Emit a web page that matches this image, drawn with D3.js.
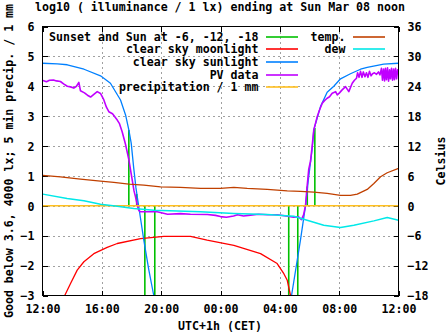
<!DOCTYPE html>
<html><head><meta charset="utf-8">
<script src="https://cdn.jsdelivr.net/npm/d3@7"></script>
<style>
body{margin:0;background:#fff}
svg{display:block}
text{font-family:"DejaVu Sans Mono",monospace;font-weight:bold;font-size:11.6px;fill:#000}
</style>
</head><body>
<svg id="c" width="447" height="335"></svg>
<script>
// ---- data (time = hours after Sat 12:00 CET) ----
const xTickHours = [0, 4, 8, 12, 16, 20, 24];
const xTickLabels = ["12:00", "16:00", "20:00", "00:00", "04:00", "08:00", "12:00"];
const yTicks = [-3, -2, -1, 0, 1, 2, 3, 4, 5, 6];
const y2Ticks = [-18, -12, -6, 0, 6, 12, 18, 24, 30, 36];

// Sunset and Sun at -6, -12, -18 (impulses from 0)
const twilightT = [5.82, 6.35, 6.9, 7.57, 16.6, 17.21, 17.85, 18.36];
const twilightV = [2.54, 0.4, -3.5, -3.5, -3.5, -3.5, 0.65, 2.6];

// clear sky moonlight
const moonT = [1.35, 1.5, 1.89, 2.34, 2.79, 3.46, 4.36, 5.04, 6.61, 8.18, 9.98, 11.1, 12.9, 14.7, 15.82, 16.27, 16.5, 16.72, 16.78];
const moonV = [-3.3, -3.0, -2.6, -2.15, -1.87, -1.6, -1.39, -1.26, -1.1, -1.02, -1.02, -1.15, -1.32, -1.6, -1.93, -2.27, -2.49, -3.0, -3.3];

// clear sky sunlight
const sunT = [0, 1.0, 1.67, 2.8, 3.91, 4.58, 5.26, 5.6, 5.82, 5.98, 6.15, 6.3, 6.49, 6.83, 7.17, 7.5, 7.6,
              16.7, 16.79, 17.39, 17.73, 17.93, 18.18, 18.29, 18.74, 19.19, 19.64, 20.09, 20.76, 21.44, 21.89, 23.0, 24];
const sunV = [4.77, 4.75, 4.72, 4.57, 4.35, 4.10, 3.54, 3.04, 2.54, 2.1, 1.26, 0.6, -0.03, -1.15, -2.15, -3.0, -3.3,
              -3.3, -3.0, -1.15, 0.0, 0.9, 1.9, 2.54, 3.32, 3.8, 4.0, 4.25, 4.42, 4.57, 4.63, 4.74, 4.77];

// PV data
const pvT = [0.03, 0.27, 0.47, 0.74, 0.94, 1.21, 1.42, 1.67, 1.89, 2.11, 2.29, 2.45, 2.56, 2.83, 3.03, 3.24, 3.44, 3.69, 3.91,
  4.13, 4.31, 4.47, 4.72, 5.04, 5.19, 5.37, 5.6, 5.82, 6.05, 6.17, 6.27, 6.4, 6.49, 6.61, 7.73, 8.43, 9.3, 9.98, 11.12,
  11.66, 12.0, 12.4, 12.88, 13.15, 13.55, 14.02, 14.56, 15.17, 15.84, 16.52, 16.92, 17.26, 17.46, 17.6, 17.73, 17.83,
  17.95, 18.07, 18.18, 18.29, 18.52, 18.67, 18.86, 19.01, 19.19, 19.35, 19.53, 19.76, 19.87, 20.02, 20.2, 20.43, 20.65,
  20.88, 21.03, 21.17, 21.24, 21.34, 21.44, 21.54, 21.63, 21.74, 21.84, 21.94, 22.04, 22.15, 22.25, 22.38, 22.52, 22.65,
  22.75, 22.85, 22.92, 22.99, 23.06, 23.12, 23.19, 23.26, 23.33, 23.4, 23.46, 23.53, 23.6, 23.67, 23.73, 23.8, 23.87, 23.94, 24.0];
const pvV = [4.19, 4.15, 4.2, 4.21, 4.18, 4.16, 4.08, 4.0, 3.98, 3.94, 4.0, 4.13, 3.85, 3.78, 3.7, 3.64, 3.72, 3.82, 3.76,
  3.55, 3.3, 3.15, 3.08, 2.87, 2.75, 2.48, 2.05, 1.55, 0.86, 0.5, 0.3, 0.0, -0.15, -0.2, -0.2, -0.28, -0.26, -0.28, -0.29,
  -0.32, -0.36, -0.38, -0.34, -0.3, -0.34, -0.31, -0.28, -0.3, -0.3, -0.35, -0.38, -0.37, -0.46, -0.3, 0.0, 0.6,
  1.23, 1.5, 2.0, 2.54, 2.98, 3.2, 3.43, 3.52, 3.6, 3.65, 3.77, 3.82, 3.71, 3.78, 3.88, 3.99, 3.82,
  4.1, 4.2, 4.27, 4.45, 4.3, 4.5, 4.3, 4.48, 4.32, 4.45, 4.3, 4.5, 4.35, 4.42, 4.45, 4.4, 4.48,
  4.38, 4.6, 4.2, 4.58, 4.18, 4.6, 4.22, 4.62, 4.17, 4.55, 4.25, 4.6, 4.2, 4.58, 4.22, 4.6, 4.25, 4.55, 4.4];

// precipitation / 1 mm
const precipT = [0, 24];
const precipV = [0, 0];

// temperature and dew point, Celsius
const tempT = [0.02, 1.21, 2.56, 3.91, 4.81, 5.82, 6.83, 7.96, 9.3, 10.65, 12.0, 12.9, 13.8, 15.15, 16.5, 17.39, 18.29,
  19.19, 20.09, 20.76, 21.22, 21.89, 22.34, 22.79, 23.24, 24.0];
const tempC = [6.1, 5.83, 5.37, 4.96, 4.7, 4.36, 4.16, 3.82, 3.7, 3.5, 3.5, 3.7, 3.5, 3.29, 3.0, 2.89, 2.76,
  2.49, 2.08, 2.08, 2.35, 3.29, 4.5, 5.83, 6.64, 7.5];
const dewT = [0.02, 1.66, 2.79, 3.91, 5.04, 6.15, 7.51, 10.65, 12.9, 15.15, 16.94, 17.84, 18.96, 20.09, 20.99, 22.34, 23.24, 24.0];
const dewC = [2.35, 1.48, 1.0, 0.34, -0.07, -0.53, -0.87, -1.2, -1.54, -1.74, -2.08, -2.88, -3.89, -4.35, -3.89, -3.02, -2.34, -2.88];

const legendLeft = ["Sunset and Sun at -6, -12, -18", "clear sky moonlight", "clear sky sunlight", "PV data", "precipitation / 1 mm"];
const legendRight = ["temp.", "dew"];
const colGreen = "#00c000", colRed = "#ff0000", colBlue = "#0080ff", colPurple = "#c000ff",
      colOrange = "#ffc020", colBrown = "#c04000", colCyan = "#00e8e8";

// ---- layout ----
const L = 42.5, R = 398.5, T = 26.5, B = 295.5;
const svg = d3.select("#c");
const x = d3.scaleLinear().domain([0, 24]).range([L, R]);
const y = d3.scaleLinear().domain([-3, 6]).range([B, T]);
const y2 = d3.scaleLinear().domain([-18, 36]).range([B, T]);

svg.append("defs").append("clipPath").attr("id", "clip")
  .append("rect").attr("x", L).attr("y", T).attr("width", R - L).attr("height", B - T);

// grid
const grid = svg.append("g").attr("stroke", "#a0a0a0").attr("stroke-dasharray", "2,3")
  .attr("shape-rendering", "crispEdges");
xTickHours.slice(1, -1).forEach(h => grid.append("line")
  .attr("x1", Math.round(x(h)) + 0.5).attr("x2", Math.round(x(h)) + 0.5).attr("y1", T).attr("y2", B));
yTicks.slice(1, -1).forEach(v => grid.append("line")
  .attr("y1", Math.round(y(v)) + 0.5).attr("y2", Math.round(y(v)) + 0.5).attr("x1", L).attr("x2", R));

// axes via d3
const xAxis = d3.axisBottom(x).tickValues(xTickHours).tickFormat((d, i) => xTickLabels[i]).tickSize(0).tickPadding(0);
const gx = svg.append("g").attr("transform", `translate(0,${B})`).call(xAxis);
gx.select(".domain").remove();
gx.selectAll("text").attr("y", 17).attr("dy", 0);

const yAxis = d3.axisLeft(y).tickValues(yTicks).tickFormat(d3.format("d")).tickSize(0).tickPadding(0);
const gy = svg.append("g").attr("transform", `translate(${L},0)`).call(yAxis);
gy.select(".domain").remove();
gy.selectAll("text").attr("x", -8).attr("dy", "0.36em");

const y2Axis = d3.axisRight(y2).tickValues(y2Ticks).tickFormat(d3.format("d")).tickSize(0).tickPadding(0);
const gy2 = svg.append("g").attr("transform", `translate(${R},0)`).call(y2Axis);
gy2.select(".domain").remove();
gy2.selectAll("text").attr("x", 9).attr("dy", "0.36em");
svg.selectAll("g").attr("font-size", null).attr("font-family", null);
svg.selectAll(".tick text").attr("fill", "#000");

// tick marks (inward, mirrored)
const tk = svg.append("g").attr("stroke", "#000").attr("shape-rendering", "crispEdges");
xTickHours.forEach(h => {
  const xx = Math.round(x(h)) + 0.5;
  tk.append("line").attr("x1", xx).attr("x2", xx).attr("y1", B).attr("y2", B - 5);
  tk.append("line").attr("x1", xx).attr("x2", xx).attr("y1", T).attr("y2", T + 5);
});
yTicks.forEach(v => {
  const yy = Math.round(y(v)) + 0.5;
  tk.append("line").attr("x1", L).attr("x2", L + 5).attr("y1", yy).attr("y2", yy);
  tk.append("line").attr("x1", R).attr("x2", R - 5).attr("y1", yy).attr("y2", yy);
});

// data
const plot = svg.append("g").attr("clip-path", "url(#clip)").attr("fill", "none")
  .attr("stroke-width", 1.3).attr("stroke-linejoin", "round");
const line = (sy) => d3.line().x(d => x(d[0])).y(d => sy(d[1]));
const zip = (a, b) => a.map((t, i) => [t, b[i]]);

twilightT.forEach((t, i) => plot.append("line").attr("stroke", colGreen).attr("stroke-width", 1.6)
  .attr("x1", x(t)).attr("x2", x(t)).attr("y1", y(0)).attr("y2", y(twilightV[i])));
plot.append("path").attr("stroke", colRed).attr("d", line(y)(zip(moonT, moonV)));
plot.append("path").attr("stroke", colBlue).attr("d", line(y)(zip(sunT, sunV)));
plot.append("path").attr("stroke", colPurple).attr("stroke-width", 1.6).attr("d", line(y)(zip(pvT, pvV)));
plot.append("path").attr("stroke", colOrange).attr("stroke-width", 1.5).attr("d", line(y)(zip(precipT, precipV)));
plot.append("path").attr("stroke", colBrown).attr("d", line(y2)(zip(tempT, tempC)));
plot.append("path").attr("stroke", colCyan).attr("stroke-width", 1.5).attr("d", line(y2)(zip(dewT, dewC)));

// border
svg.append("rect").attr("x", L).attr("y", T).attr("width", R - L).attr("height", B - T)
  .attr("fill", "none").attr("stroke", "#000").attr("shape-rendering", "crispEdges");

// legend
const legCols = [colGreen, colRed, colBlue, colPurple, colOrange];
const legCols2 = [colBrown, colCyan];
const rowY = i => 36.5 + i * 12.7;
const leg = svg.append("g");
legendLeft.forEach((s, i) => {
  leg.append("text").attr("x", 258.5).attr("y", rowY(i)).attr("dy", "0.36em").attr("text-anchor", "end").text(s);
  leg.append("line").attr("x1", 266).attr("x2", 298).attr("y1", Math.round(rowY(i))).attr("y2", Math.round(rowY(i)))
    .attr("stroke", legCols[i]).attr("stroke-width", 1.6);
});
legendRight.forEach((s, i) => {
  leg.append("text").attr("x", 345.5).attr("y", rowY(i)).attr("dy", "0.36em").attr("text-anchor", "end").text(s);
  leg.append("line").attr("x1", 353).attr("x2", 385).attr("y1", Math.round(rowY(i))).attr("y2", Math.round(rowY(i)))
    .attr("stroke", legCols2[i]).attr("stroke-width", 1.6);
});

// titles
svg.append("text").attr("x", 220).attr("y", 10.5).attr("text-anchor", "middle")
  .text("log10 ( illuminance / 1 lx) ending at Sun Mar 08 noon");
svg.append("text").attr("x", 220).attr("y", 330).attr("text-anchor", "middle").text("UTC+1h (CET)");
svg.append("text").attr("transform", "translate(12.5,161) rotate(-90)").attr("text-anchor", "middle")
  .text("Good below 3.6, 4000 lx; 5 min precip. / 1 mm");
svg.append("text").attr("transform", "translate(444.5,161) rotate(-90)").attr("text-anchor", "middle").text("Celsius");
</script>
</body></html>
